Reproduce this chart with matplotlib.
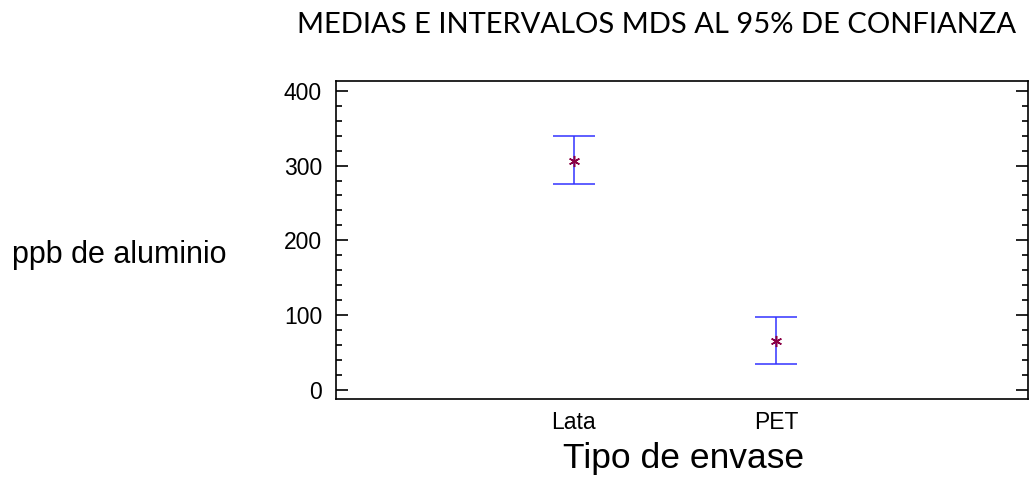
import numpy as np
import matplotlib
matplotlib.use('Agg')
import matplotlib.pyplot as plt
from matplotlib.ticker import MultipleLocator

# medias e intervalos MDS
envases = ['Lata', 'PET']
medias = [306.7, 65.5]
lim_inf = [275.6, 34.2]
lim_sup = [339.0, 97.0]

fig = plt.figure(figsize = (10.29, 4.87), dpi = 100)
ax = fig.add_axes([0.3265, 0.1807, 0.6725, 0.653])

x = np.arange(1, len(envases) + 1)
err = [np.array(medias) - np.array(lim_inf), np.array(lim_sup) - np.array(medias)]
ax.errorbar(x, medias, yerr = err, fmt = 'none', ecolor = '#3333ff', elinewidth = 1.1,
			capsize = 15, capthick = 1.1)
ax.plot(x, medias, linestyle = 'none', marker = (6, 2, 0), markersize = 8,
		markeredgecolor = '#8b0045', markeredgewidth = 1.1)

ax.set_xlim(-0.178, 3.248)
ax.set_ylim(-12, 413)
ax.set_xticks(x)
ax.set_xticklabels(envases, family = 'Liberation Sans', fontsize = 16.5)
ax.yaxis.set_major_locator(MultipleLocator(100))
ax.yaxis.set_minor_locator(MultipleLocator(20))
for lbl in ax.get_yticklabels():
	lbl.set_family('Liberation Sans')
	lbl.set_fontsize(16.5)
ax.tick_params(axis = 'x', length = 0, pad = 9)
ax.tick_params(axis = 'y', which = 'major', direction = 'in', length = 8.5, width = 1.2,
			   left = True, right = True, pad = 10)
ax.tick_params(axis = 'y', which = 'minor', direction = 'in', length = 4.5, width = 1.2,
			   left = True, right = True)
for s in ax.spines.values():
	s.set_linewidth(1.2)

fig.text(657 / 1029, 1 - 33 / 487, 'MEDIAS E INTERVALOS MDS AL 95% DE CONFIANZA',
		 family = 'Lato', fontsize = 21, ha = 'center', va = 'baseline')
fig.text(12 / 1029, 0.476, 'ppb de aluminio', family = 'Liberation Sans', fontsize = 22,
		 ha = 'left', va = 'center')
fig.text(684 / 1029, 1 - 468 / 487, 'Tipo de envase', family = 'Liberation Sans', fontsize = 25.5,
		 ha = 'center', va = 'baseline')

fig.savefig('out.png', dpi = 100)
